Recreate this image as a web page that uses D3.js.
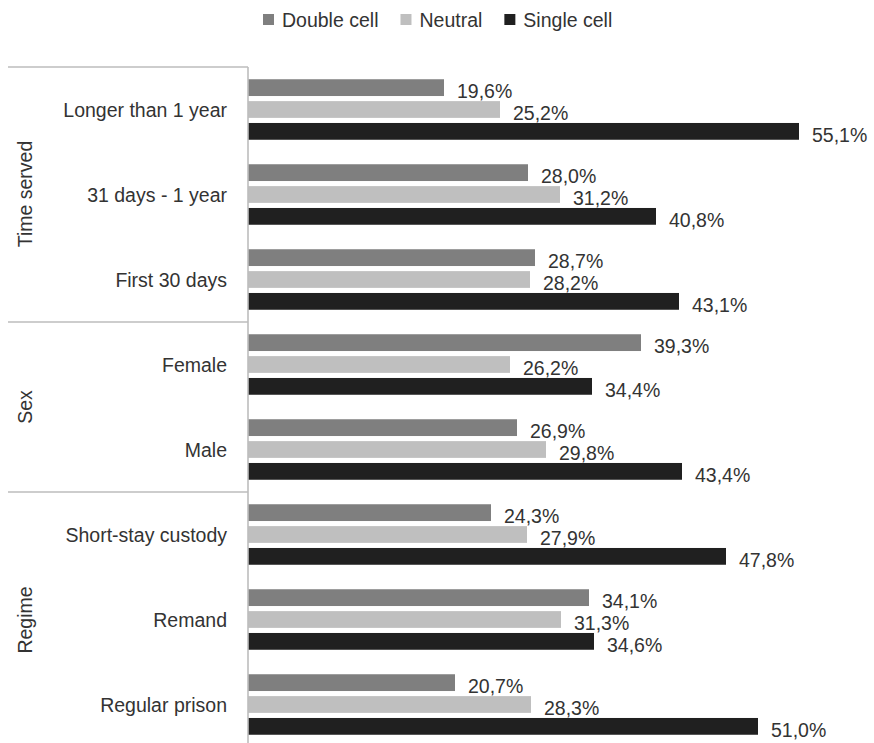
<!DOCTYPE html>
<html>
<head>
<meta charset="utf-8">
<script src="https://cdn.jsdelivr.net/npm/d3@7"></script>
<style>
  html, body { margin: 0; padding: 0; background: #fff; }
  svg { display: block; }
  text { font-family: "Liberation Sans", Arial, sans-serif; fill: #333; }
</style>
</head>
<body>
<svg id="chart" width="874" height="743"></svg>
<script>
const categories = ["Longer than 1 year", "31 days - 1 year", "First 30 days", "Female", "Male", "Short-stay custody", "Remand", "Regular prison"];
const groups = ["Time served", "Sex", "Regime"];
const groupSizes = [3, 2, 3];
const series = ["Double cell", "Neutral", "Single cell"];
const doubleCell = [19.6, 28.0, 28.7, 39.3, 26.9, 24.3, 34.1, 20.7];
const neutral    = [25.2, 31.2, 28.2, 26.2, 29.8, 27.9, 31.3, 28.3];
const singleCell = [55.1, 40.8, 43.1, 34.4, 43.4, 47.8, 34.6, 51.0];
const colors = ["#7f7f7f", "#bfbfbf", "#202020"];

const seriesValues = [doubleCell, neutral, singleCell];
const svg = d3.select("#chart");
const fontSize = 19.5;

const x = d3.scaleLinear().domain([0, 60]).range([248, 848]);
const y = d3.scaleBand().domain(categories).range([67, 747]).padding(0);
const yInner = d3.scaleBand().domain(series).range([0, y.bandwidth()])
  .paddingInner(0.233).paddingOuter(0.56);

const locale = d3.formatLocale({decimal: ",", thousands: ".", grouping: [3], currency: ["", "€"]});
const fmt = v => locale.format(".1f")(v) + "%";

// Bars
const rows = categories.map((c, i) => ({cat: c, vals: series.map((s, j) => ({s, j, v: seriesValues[j][i]}))}));
const rowG = svg.selectAll("g.row").data(rows).join("g")
  .attr("class", "row")
  .attr("transform", d => `translate(0,${y(d.cat)})`);

rowG.selectAll("rect").data(d => d.vals).join("rect")
  .attr("x", x(0))
  .attr("y", d => yInner(d.s))
  .attr("width", d => x(d.v) - x(0))
  .attr("height", yInner.bandwidth())
  .attr("fill", d => colors[d.j]);

rowG.selectAll("text.val").data(d => d.vals).join("text")
  .attr("class", "val")
  .attr("x", d => x(d.v) + 13)
  .attr("y", d => yInner(d.s) + yInner.bandwidth() / 2 + 10.5)
  .attr("font-size", fontSize)
  .text(d => fmt(d.v));

// Category labels
svg.selectAll("text.cat").data(categories).join("text")
  .attr("class", "cat")
  .attr("x", 227)
  .attr("y", d => y(d) + y.bandwidth() / 2 + 7)
  .attr("text-anchor", "end")
  .attr("font-size", fontSize)
  .text(d => d);

// Axis line and group separators
const lineColor = "#bdbdbd";
svg.append("line")
  .attr("x1", x(0)).attr("x2", x(0))
  .attr("y1", y.range()[0]).attr("y2", 743)
  .attr("stroke", lineColor).attr("stroke-width", 1.6);

let start = 0;
const groupInfo = groups.map((g, i) => {
  const s = start; start += groupSizes[i];
  const y0 = y(categories[s]);
  const y1 = y(categories[start - 1]) + y.bandwidth();
  return {g, y0, y1};
});

svg.selectAll("line.sep").data(groupInfo).join("line")
  .attr("class", "sep")
  .attr("x1", 8).attr("x2", x(0))
  .attr("y1", d => d.y0).attr("y2", d => d.y0)
  .attr("stroke", lineColor).attr("stroke-width", 1.6);

const groupCenters = [194, 407, 620];
svg.selectAll("text.grp").data(groupInfo).join("text")
  .attr("class", "grp")
  .attr("transform", (d, i) => `translate(32,${groupCenters[i]}) rotate(-90)`)
  .attr("text-anchor", "middle")
  .attr("font-size", fontSize)
  .text(d => d.g);

// Legend
const legend = svg.append("g");
const items = legend.selectAll("g").data(series).join("g");
items.append("rect")
  .attr("width", 11).attr("height", 11)
  .attr("y", 14)
  .attr("fill", (d, i) => colors[i]);
items.append("text")
  .attr("x", 19).attr("y", 27)
  .attr("font-size", fontSize)
  .text(d => d);
let lx = 263;
items.each(function() {
  const g = d3.select(this);
  g.attr("transform", `translate(${lx},0)`);
  lx += 19 + g.select("text").node().getComputedTextLength() + 22;
});
</script>
</body>
</html>
